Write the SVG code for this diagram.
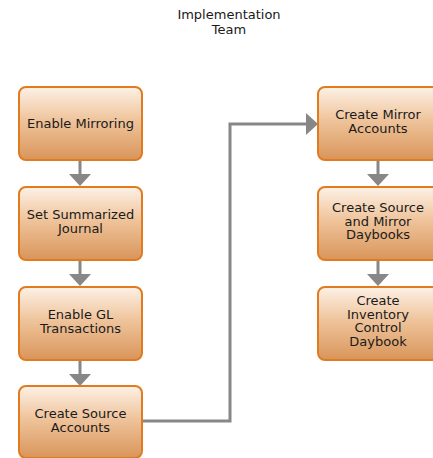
<svg xmlns="http://www.w3.org/2000/svg" width="433" height="458" viewBox="0 0 433 458">
<defs>
<linearGradient id="g" x1="0" y1="0" x2="0" y2="1">
<stop offset="0" stop-color="#fdf1e6"/>
<stop offset="0.45" stop-color="#efc49c"/>
<stop offset="1" stop-color="#d9955a"/>
</linearGradient>
</defs>
<style>
.box{fill:url(#g);stroke:#e07b20;stroke-width:2}
.t{font-family:"DejaVu Sans",Verdana,sans-serif;font-size:13px;fill:#1a1a1a;text-anchor:middle}
.c{fill:none;stroke:#878787;stroke-width:3}
.h{fill:#878787}
</style>
<rect width="433" height="458" fill="#fff"/>
<g id="title"><text class="t" x="229" y="19">Implementation</text><text class="t" x="229" y="33.5">Team</text></g>
<g id="connectors">
<line class="c" x1="80" y1="160" x2="80" y2="174"/><path class="h" d="M69,174 L91,174 L80,186 Z"/>
<line class="c" x1="80" y1="260" x2="80" y2="274"/><path class="h" d="M69,274 L91,274 L80,286 Z"/>
<line class="c" x1="80" y1="360" x2="80" y2="374"/><path class="h" d="M69,374 L91,374 L80,386 Z"/>
<line class="c" x1="378" y1="160" x2="378" y2="174"/><path class="h" d="M367,174 L389,174 L378,186 Z"/>
<line class="c" x1="378" y1="260" x2="378" y2="274"/><path class="h" d="M367,274 L389,274 L378,286 Z"/>
<polyline class="c" points="143,421 230,421 230,124 306,124"/><path class="h" d="M306,113 L318,124 L306,135 Z"/>
</g>
<g id="n1"><rect class="box" x="19" y="87" width="123" height="73" rx="7"/><text class="t" x="80.5" y="128">Enable Mirroring</text></g>
<g id="n2"><rect class="box" x="19" y="187" width="123" height="73" rx="7"/><text class="t" x="80.5" y="219">Set Summarized</text><text class="t" x="80.5" y="233">Journal</text></g>
<g id="n3"><rect class="box" x="19" y="287" width="123" height="73" rx="7"/><text class="t" x="80.5" y="319">Enable GL</text><text class="t" x="80.5" y="333">Transactions</text></g>
<g id="n4"><rect class="box" x="19" y="386" width="123" height="72" rx="7"/><text class="t" x="80.5" y="418">Create Source</text><text class="t" x="80.5" y="432">Accounts</text></g>
<g id="n5"><rect class="box" x="318" y="87" width="123" height="73" rx="7"/><text class="t" x="378" y="119">Create Mirror</text><text class="t" x="378" y="133">Accounts</text></g>
<g id="n6"><rect class="box" x="318" y="187" width="123" height="73" rx="7"/><text class="t" x="378" y="212">Create Source</text><text class="t" x="378" y="225.5">and Mirror</text><text class="t" x="378" y="239">Daybooks</text></g>
<g id="n7"><rect class="box" x="318" y="287" width="123" height="73" rx="7"/><text class="t" x="378" y="305">Create</text><text class="t" x="378" y="318.5">Inventory</text><text class="t" x="378" y="332">Control</text><text class="t" x="378" y="345.5">Daybook</text></g>
</svg>
